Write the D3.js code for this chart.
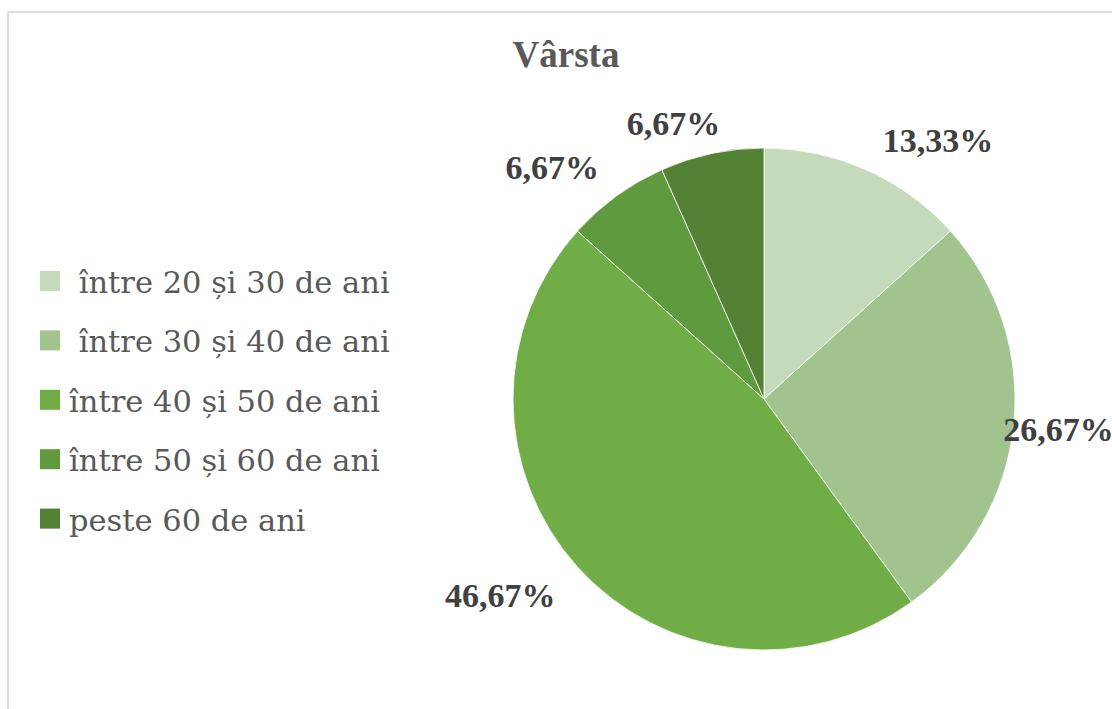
<!DOCTYPE html>
<html>
<head>
<meta charset="utf-8">
<script src="https://cdn.jsdelivr.net/npm/d3@7"></script>
<style>
    body { margin: 0; background: #fff; }
    svg { display: block; }
</style>
</head>
<body>
<div id="chart"></div>
<script>
(function(){
    "use strict";

    //==========================================================================================
    // Data
    //==========================================================================================
    var categories = [" între 20 și 30 de ani", " între 30 și 40 de ani", "între 40 și 50 de ani",
                      "între 50 și 60 de ani", "peste 60 de ani"];
    var values = [13.33, 26.67, 46.67, 6.67, 6.67];
    var labels = ["13,33%", "26,67%", "46,67%", "6,67%", "6,67%"];
    var colors = ["#c5d9bb", "#a1c48f", "#70ad47", "#5f9a3e", "#538235"];

    // label placement (best-fit look): angle shift in degrees, distance from centre
    var labelAngleShift = [9.9, 0, 5.3, -6.4, -6.2];
    var labelRadius = [312, 296, 329, 314, 290];

    //==========================================================================================
    // Layout
    //==========================================================================================
    var width = 1112, height = 709;
    var cx = 764, cy = 399, radius = 251;
    var serif = "'Liberation Serif', 'Times New Roman', serif";
    var legendFont = "'DejaVu Serif', serif";

    var svg = d3.select("#chart").append("svg")
        .attr("width", width)
        .attr("height", height);

    // chart frame
    svg.append("rect")
        .attr("x", 8).attr("y", 12)
        .attr("width", 1300).attr("height", 900)
        .attr("fill", "none")
        .attr("stroke", "#d9d9d9")
        .attr("stroke-width", 1.75);

    // title
    svg.append("text")
        .attr("x", 566).attr("y", 67)
        .attr("text-anchor", "middle")
        .attr("font-family", serif)
        .attr("font-weight", "bold")
        .attr("font-size", 37)
        .attr("fill", "#595959")
        .text("Vârsta");

    //------------------------------------------------------------------------------------------
    // Pie
    //------------------------------------------------------------------------------------------
    var pie = d3.pie().sort(null).value(function(d) { return d; });
    var arcs = pie(values);
    var arc = d3.arc().innerRadius(0).outerRadius(radius);

    var g = svg.append("g").attr("transform", "translate(" + cx + "," + cy + ")");

    g.selectAll("path.slice")
        .data(arcs)
        .enter()
        .append("path")
        .attr("class", "slice")
        .attr("d", arc)
        .attr("fill", function(d, i) { return colors[i]; })
        .attr("stroke", "#ffffff")
        .attr("stroke-width", 0.8);

    g.selectAll("text.lbl")
        .data(arcs)
        .enter()
        .append("text")
        .attr("class", "lbl")
        .attr("text-anchor", "middle")
        .attr("font-family", serif)
        .attr("font-weight", "bold")
        .attr("font-size", 34)
        .attr("fill", "#404040")
        .attr("x", function(d, i) {
            var a = (d.startAngle + d.endAngle) / 2 + labelAngleShift[i] * Math.PI / 180;
            return Math.sin(a) * labelRadius[i];
        })
        .attr("y", function(d, i) {
            var a = (d.startAngle + d.endAngle) / 2 + labelAngleShift[i] * Math.PI / 180;
            return -Math.cos(a) * labelRadius[i] + 11.5;
        })
        .text(function(d, i) { return labels[i]; });

    //------------------------------------------------------------------------------------------
    // Legend
    //------------------------------------------------------------------------------------------
    var legend = svg.selectAll(".legend")
        .data(categories)
        .enter()
        .append("g")
        .attr("class", "legend")
        .attr("transform", function(d, i) { return "translate(40," + (271 + i * 59.4) + ")"; });

    legend.append("rect")
        .attr("width", 20).attr("height", 20)
        .attr("fill", function(d, i) { return colors[i]; });

    legend.append("text")
        .attr("x", 29).attr("y", 22)
        .attr("font-family", legendFont)
        .attr("font-size", 30.5)
        .attr("fill", "#595959")
        .style("white-space", "pre")
        .text(function(d) { return d; });

})();
</script>
</body>
</html>
